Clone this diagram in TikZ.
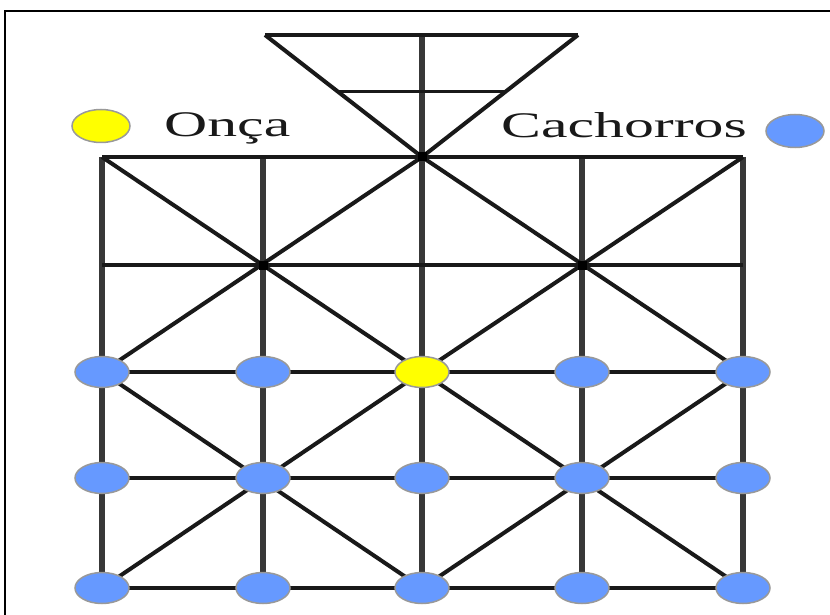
\documentclass[tikz,border=0pt]{standalone}
\usepackage{fontspec}
\setmainfont{Liberation Serif}
\usepackage{graphicx}
\usetikzlibrary{shapes.geometric,calc}
\definecolor{dogblue}{HTML}{6699FF}
\definecolor{jaguar}{HTML}{FFFF00}
\definecolor{rimgray}{HTML}{999999}
\tikzset{
  piece/.style={ellipse, minimum width=54pt, minimum height=31pt, inner sep=0pt, draw=rimgray, line width=1.5pt},
  dog/.style={piece, fill=dogblue},
  onca/.style={piece, fill=jaguar},
  legendpiece/.style={ellipse, minimum width=58pt, minimum height=33pt, inner sep=0pt, draw=rimgray, line width=1.5pt},
  gridline/.style={line width=4pt, draw=black!90},
  vline/.style={line width=5.5pt, draw=black!78},
  thinline/.style={line width=3pt, draw=black!90},
  legendtext/.style={inner sep=0pt, anchor=base west, font=\fontsize{36}{40}\selectfont, text=black!90},
}
\begin{document}
\begin{tikzpicture}[x=1pt,y=-1pt]
\useasboundingbox (0,0) rectangle (830,615);
\fill[white] (0,0) rectangle (830,615);
% frame
\draw[line width=2pt, black] (5,620) -- (5,11) -- (835,11);
% grid coordinates
\foreach \c/\x in {1/102,2/263,3/422,4/582,5/743}{
  \foreach \r/\y in {1/157,2/265,3/372,4/478,5/588}{
    \coordinate (p\c\r) at (\x,\y);
  }
}
\coordinate (tl) at (265,35);
\coordinate (tr) at (578,35);
\coordinate (tm) at (422,35);
\coordinate (ml) at (338,92);
\coordinate (mr) at (505,92);
% verticals
\draw[vline] (p11) -- (p15);
\draw[vline] (p21) -- (p25);
\draw[vline] (tm) -- (p35);
\draw[vline] (p41) -- (p45);
\draw[vline] (p51) -- (p55);
% triangle
\draw[gridline] (tl) -- (tr);
\draw[gridline] (tl) -- (p31);
\draw[gridline] (tr) -- (p31);
\draw[thinline] (ml) -- (mr);
% horizontals
\foreach \r in {1,2,3,4,5}{
  \draw[gridline] (p1\r) -- (p5\r);
}
% diagonals
\draw[gridline] (p11) -- (p33);
\draw[gridline] (p31) -- (p13);
\draw[gridline] (p31) -- (p53);
\draw[gridline] (p51) -- (p33);
\draw[gridline] (p13) -- (p35);
\draw[gridline] (p33) -- (p15);
\draw[gridline] (p33) -- (p55);
\draw[gridline] (p53) -- (p35);
% junction dots
\foreach \p in {p31,p22,p42}{
  \fill[black] ($(\p)+(-4.5,-4.5)$) rectangle ($(\p)+(4.5,4.5)$);
}
% pieces
\foreach \c in {1,2,4,5}{
  \node[dog] (d\c3) at (p\c3) {};
}
\node[onca] (jag) at (p33) {};
\foreach \c in {1,2,3,4,5}{
  \node[dog] (d\c4) at (p\c4) {};
  \node[dog] (d\c5) at (p\c5) {};
}
% legend
\node[legendpiece, fill=jaguar] (legJ) at (101,126) {};
\node[legendtext] (txtJ) at (164,137) {\scalebox{1.66}[1]{Onça}};
\node[legendtext] (txtC) at (501,138) {\scalebox{1.66}[1]{Cachorros}};
\node[legendpiece, fill=dogblue] (legC) at (795,131) {};
\end{tikzpicture}
\end{document}
